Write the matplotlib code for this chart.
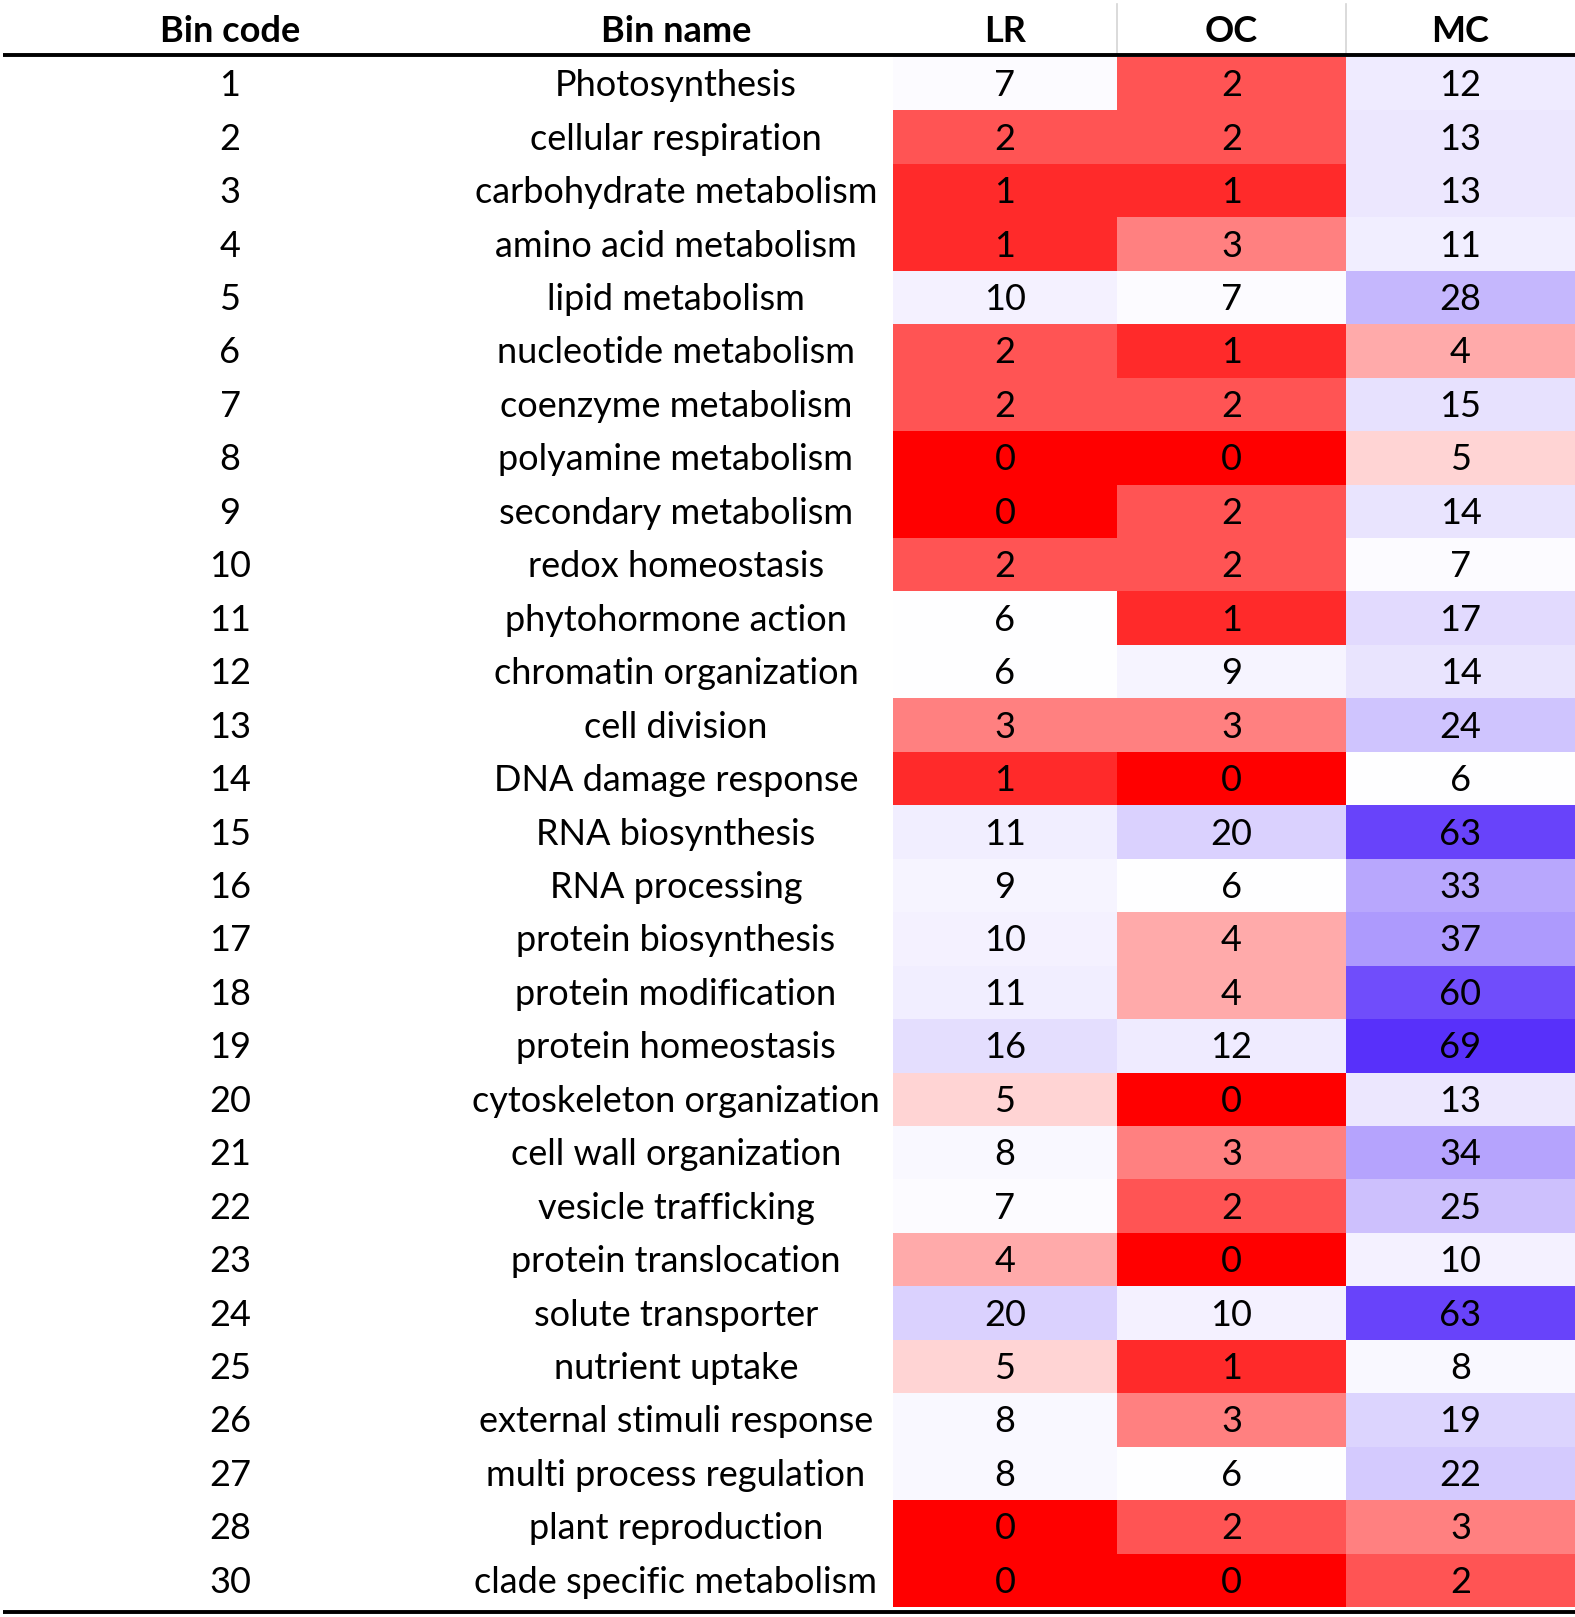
import numpy as np
import matplotlib
matplotlib.use("Agg")
import matplotlib.pyplot as plt
from matplotlib.colors import LinearSegmentedColormap, TwoSlopeNorm

bin_codes = [1, 2, 3, 4, 5, 6, 7, 8, 9, 10, 11, 12, 13, 14, 15, 16, 17, 18, 19,
             20, 21, 22, 23, 24, 25, 26, 27, 28, 30]
bin_names = [
    "Photosynthesis", "cellular respiration", "carbohydrate metabolism",
    "amino acid metabolism", "lipid metabolism", "nucleotide metabolism",
    "coenzyme metabolism", "polyamine metabolism", "secondary metabolism",
    "redox homeostasis", "phytohormone action", "chromatin organization",
    "cell division", "DNA damage response", "RNA biosynthesis", "RNA processing",
    "protein biosynthesis", "protein modification", "protein homeostasis",
    "cytoskeleton organization", "cell wall organization", "vesicle trafficking",
    "protein translocation", "solute transporter", "nutrient uptake",
    "external stimuli response", "multi process regulation", "plant reproduction",
    "clade specific metabolism",
]
columns = ["LR", "OC", "MC"]
lr = [7, 2, 1, 1, 10, 2, 2, 0, 0, 2, 6, 6, 3, 1, 11, 9, 10, 11, 16, 5, 8, 7, 4, 20, 5, 8, 8, 0, 0]
oc = [2, 2, 1, 3, 7, 1, 2, 0, 2, 2, 1, 9, 3, 0, 20, 6, 4, 4, 12, 0, 3, 2, 0, 10, 1, 3, 6, 2, 0]
mc = [12, 13, 13, 11, 28, 4, 15, 5, 14, 7, 17, 14, 24, 6, 63, 33, 37, 60, 69, 13, 34, 25, 10, 63, 8, 19, 22, 3, 2]

values = np.array([lr, oc, mc]).T

plt.rcParams['font.family'] = ['Lato', 'DejaVu Sans']

W, H = 1575, 1617
fig = plt.figure(figsize=(W / 100, H / 100), dpi=100)
ax = fig.add_axes([0, 0, 1, 1])
ax.set_xlim(0, W)
ax.set_ylim(H, 0)
ax.axis('off')

# layout (pixels)
header_y = 32
top, bottom = 57, 1607
x_code, x_name = 230, 676
x_edges = np.array([893, 1117, 1346, 1575])
y_edges = np.linspace(top, bottom, len(bin_codes) + 1)
y_centers = (y_edges[:-1] + y_edges[1:]) / 2 + 2
x_centers = (x_edges[:-1] + x_edges[1:]) / 2

# excel-style 3 colour scale: min red, median white, max blue
cmap = LinearSegmentedColormap.from_list(
    "rwb", [(1.0, 0.0, 0.0), (1.0, 1.0, 1.0), (88 / 255, 48 / 255, 250 / 255)])
norm = TwoSlopeNorm(vmin=values.min(), vcenter=np.median(values), vmax=values.max())
ax.pcolormesh(x_edges, y_edges, values, cmap=cmap, norm=norm, shading='flat')

fs = 26
for i in range(len(bin_codes)):
    y = y_centers[i]
    ax.text(x_code, y, str(bin_codes[i]), ha='center', va='center', fontsize=fs)
    ax.text(x_name, y, bin_names[i], ha='center', va='center', fontsize=fs)
    for j in range(len(columns)):
        ax.text(x_centers[j], y, str(values[i, j]), ha='center', va='center', fontsize=fs)

# header
ax.text(x_code, header_y, "Bin code", ha='center', va='center', fontsize=fs, fontweight='bold')
ax.text(x_name, header_y, "Bin name", ha='center', va='center', fontsize=fs, fontweight='bold')
for j, c in enumerate(columns):
    ax.text(x_centers[j], header_y, c, ha='center', va='center', fontsize=fs, fontweight='bold')
for xe in x_edges[1:3]:
    ax.plot([xe, xe], [4, 55], color='#d4d4d4', lw=1.2)

ax.plot([3, W], [55, 55], color='black', lw=2.8, solid_capstyle='butt')
ax.plot([3, W], [1612, 1612], color='black', lw=2.8, solid_capstyle='butt')

fig.savefig("out.png", dpi=100)
